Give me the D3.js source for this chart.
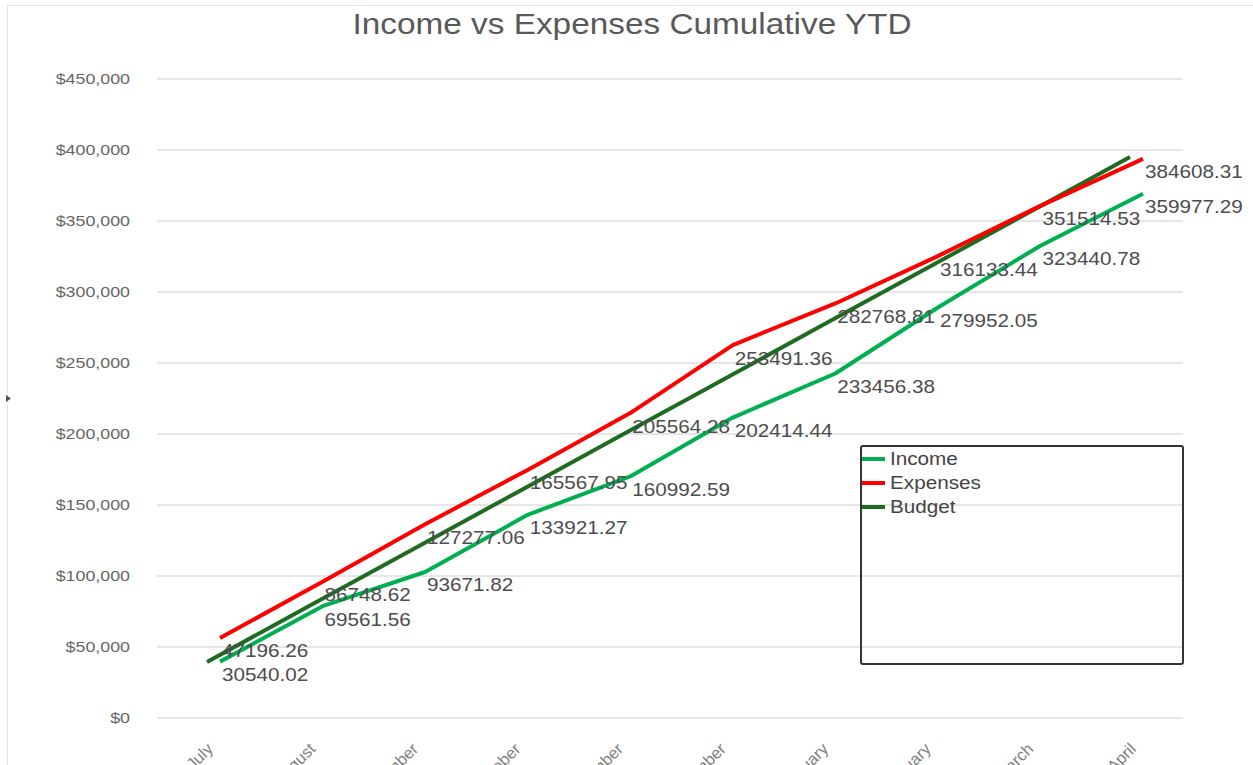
<!DOCTYPE html>
<html>
<head>
<meta charset="utf-8">
<script src="https://cdn.jsdelivr.net/npm/d3@7"></script>
<style>
  body { margin: 0; background: #fff; }
  svg { display: block; font-family: "Liberation Sans", Arial, sans-serif; }
</style>
</head>
<body>
<svg id="chart" width="1253" height="765"></svg>
<script>
// Data
let months = ["July", "August", "September", "October", "November", "December",
  "January", "February", "March", "April"];
let income = [30540.02, 69561.56, 93671.82, 133921.27, 160992.59, 202414.44,
  233456.38, 279952.05, 323440.78, 359977.29];
let expenses = [47196.26, 86748.62, 127277.06, 165567.95, 205564.28, 253491.36,
  282768.81, 316133.44, 351514.53, 384608.31];
let budget = [39500, 79000, 118500, 158000, 197500, 237000, 276500, 316000, 355500, 395000];
let yTicks = [0, 50000, 100000, 150000, 200000, 250000, 300000, 350000, 400000, 450000];

let seriesNames = ["Income", "Expenses", "Budget"];
let seriesColors = ["#00b050", "#ff0000", "#1e6b21"];

// the picture is stretched a bit horizontally, so text is too
let stretch = 1.15;
let lineLift = 13;     // lines sit a little above their labels
let budgetShift = -13; // budget line is drawn slightly to the left

let svg = d3.select("#chart");

// Scales
let x = d3.scalePoint().domain(months).range([220, 1143]);
let y = d3.scaleLinear().domain([0, 450000]).range([718, 79]);
let money = d3.format(",");

// Outer frame
svg.append("rect")
  .attr("x", 7.5).attr("y", 5.5)
  .attr("width", 1260).attr("height", 780)
  .attr("fill", "none")
  .attr("stroke", "#e6e6e6");

svg.append("path")
  .attr("d", "M6,395 L11,398.5 L6,402 Z")
  .attr("fill", "#555");

// Title
svg.append("text")
  .attr("transform", "translate(632,34) scale(" + stretch + ",1)")
  .attr("text-anchor", "middle")
  .attr("font-size", 29)
  .attr("fill", "#595959")
  .text("Income vs Expenses Cumulative YTD");

// Gridlines and y labels
let grid = svg.append("g").attr("class", "grid");
grid.selectAll("line")
  .data(yTicks)
  .join("line")
  .attr("x1", 157).attr("x2", 1183)
  .attr("y1", d => y(d)).attr("y2", d => y(d))
  .attr("stroke", "#e6e6e6")
  .attr("stroke-width", 2);

grid.selectAll("text")
  .data(yTicks)
  .join("text")
  .attr("transform", d => "translate(130," + y(d) + ") scale(" + stretch + ",1)")
  .attr("text-anchor", "end")
  .attr("dominant-baseline", "central")
  .attr("font-size", 15.5)
  .attr("fill", "#666")
  .text(d => "$" + money(d));

// x labels, rotated (they run off the bottom like in the original)
svg.append("g")
  .selectAll("text")
  .data(months)
  .join("text")
  .attr("transform", d => "translate(" + (x(d) - 6) + ",750) rotate(-45)")
  .attr("text-anchor", "end")
  .attr("font-size", 16.5)
  .attr("fill", "#808080")
  .text(d => d);

// Lines
let line = d3.line()
  .x((d, i) => x(months[i]))
  .y(d => y(d));

let lines = svg.append("g").attr("class", "lines")
  .attr("fill", "none")
  .attr("stroke-width", 4)
  .attr("stroke-linejoin", "round");

lines.append("path")
  .datum(budget)
  .attr("transform", "translate(" + budgetShift + ",0)")
  .attr("stroke", seriesColors[2])
  .attr("d", line);

lines.append("path")
  .datum(expenses)
  .attr("transform", "translate(0," + (-lineLift) + ")")
  .attr("stroke", seriesColors[1])
  .attr("d", line);

lines.append("path")
  .datum(income)
  .attr("transform", "translate(0," + (-lineLift) + ")")
  .attr("stroke", seriesColors[0])
  .attr("d", line);

// Data labels for income and expenses
function addLabels(values) {
  svg.append("g")
    .selectAll("text")
    .data(values)
    .join("text")
    .attr("transform", (d, i) => "translate(" + (x(months[i]) + 2) + "," + y(d) + ") scale(" + stretch + ",1)")
    .attr("dominant-baseline", "central")
    .attr("font-size", 18)
    .attr("fill", "#4d4d4d")
    .text(d => d.toFixed(2));
}
addLabels(expenses);
addLabels(income);

// Legend
let legend = svg.append("g").attr("class", "legend");
legend.append("rect")
  .attr("x", 861).attr("y", 446)
  .attr("width", 322).attr("height", 218)
  .attr("rx", 2)
  .attr("fill", "none")
  .attr("stroke", "#333")
  .attr("stroke-width", 2);

let items = legend.selectAll("g.item")
  .data(seriesNames)
  .join("g")
  .attr("class", "item")
  .attr("transform", (d, i) => "translate(0," + (459 + i * 24) + ")");

items.append("line")
  .attr("x1", 862).attr("x2", 885)
  .attr("stroke", (d, i) => seriesColors[i])
  .attr("stroke-width", 4);

items.append("text")
  .attr("transform", "translate(890,0) scale(" + stretch + ",1)")
  .attr("dominant-baseline", "central")
  .attr("font-size", 18)
  .attr("fill", "#444")
  .text(d => d);
</script>
</body>
</html>
